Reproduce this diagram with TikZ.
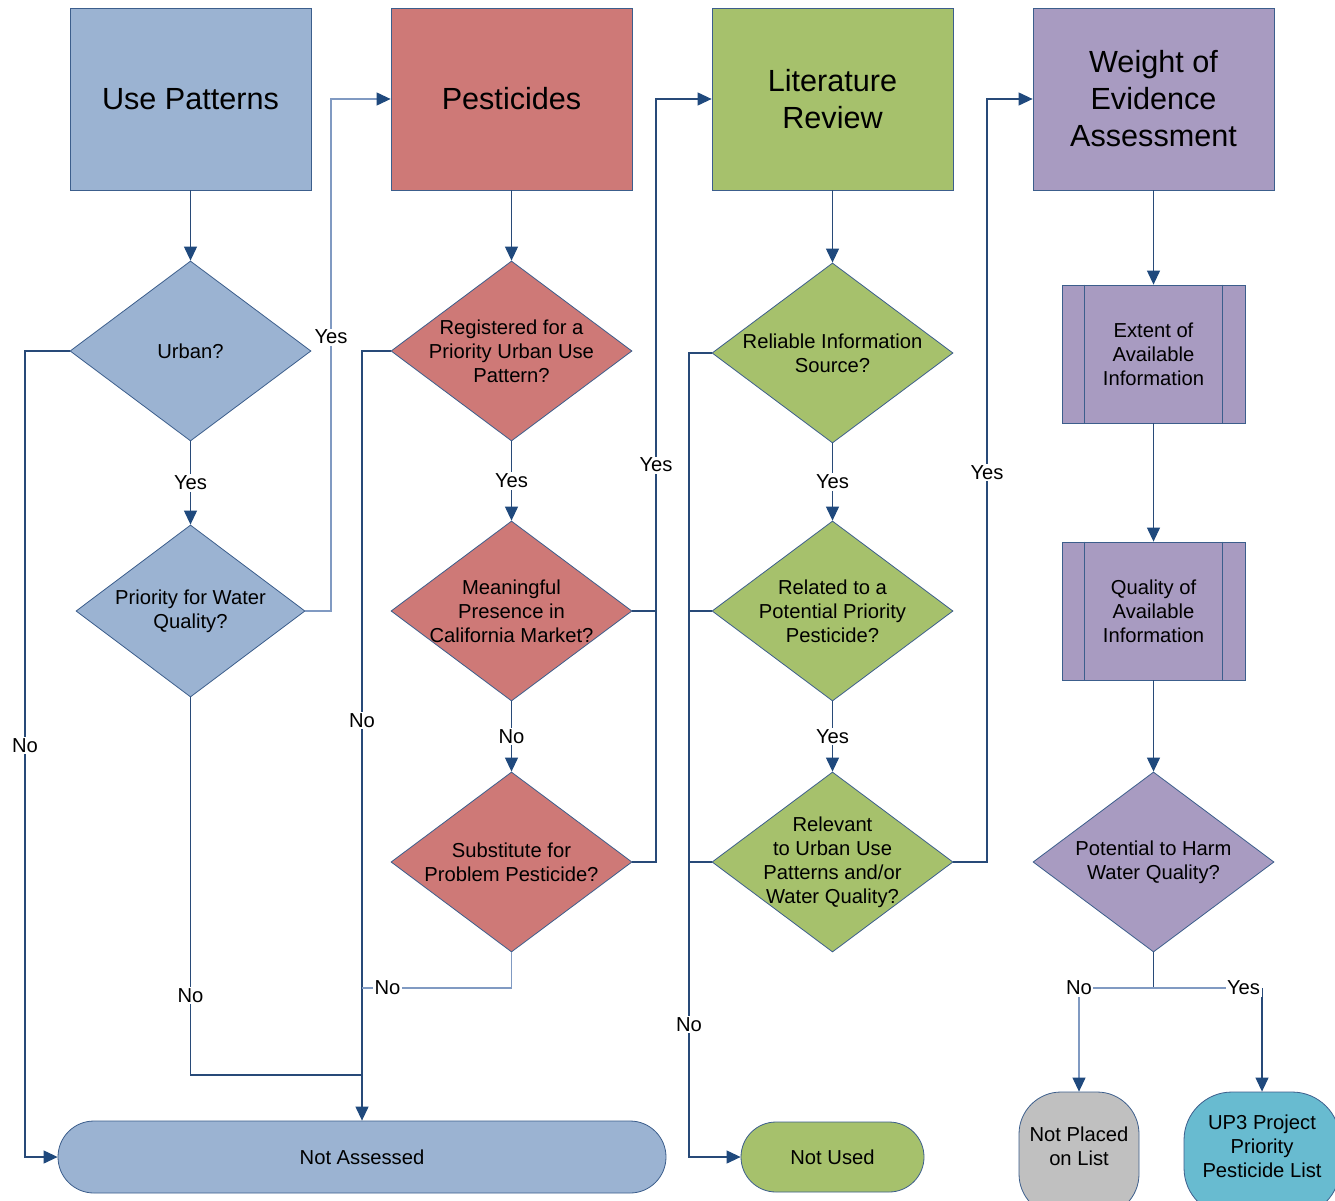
\documentclass[tikz,border=0pt]{standalone}
\usepackage{fontspec}
\setmainfont{Liberation Sans}
\usetikzlibrary{shapes.geometric,arrows.meta}
\definecolor{cBlue}{RGB}{155,179,210}
\definecolor{cRed}{RGB}{206,121,119}
\definecolor{cGreen}{RGB}{166,193,108}
\definecolor{cPurple}{RGB}{168,155,193}
\definecolor{cGray}{RGB}{192,192,192}
\definecolor{cCyan}{RGB}{104,187,208}
\definecolor{cBorder}{RGB}{60,94,140}
\definecolor{cLine}{RGB}{40,74,120}
\definecolor{cLineL}{RGB}{128,154,194}
\definecolor{cArrow}{RGB}{31,73,125}
\begin{document}
\begin{tikzpicture}[x=1pt,y=-1pt,
  hdr/.style={draw=cBorder, line width=0.8pt, minimum width=241pt, minimum height=182pt, inner sep=0pt, align=center, font=\fontsize{30.6}{37}\selectfont},
  dia/.style={diamond, draw=cBorder, line width=0.8pt, minimum width=241pt, minimum height=180pt, inner sep=0pt},
  txt/.style={align=center, inner sep=0pt, font=\fontsize{20.2}{24}\selectfont},
  proc/.style={draw=cBorder, line width=0.8pt, fill=cPurple, minimum width=183pt, minimum height=138pt, inner sep=0pt, align=center, font=\fontsize{20.2}{24}\selectfont},
  term/.style={draw=cBorder, line width=0.8pt, inner sep=0pt, align=center, font=\fontsize{20.2}{24}\selectfont},
  lbl/.style={fill=white, inner sep=1.5pt, font=\fontsize{20.2}{24}\selectfont},
  conn/.style={draw=cLine, line width=1.1pt, -{Triangle[width=13pt,length=14pt,color=cArrow]}},
  connL/.style={draw=cLineL, line width=1.1pt, -{Triangle[width=13pt,length=14pt,color=cArrow]}},
  line/.style={draw=cLine, line width=1.1pt},
  lineL/.style={draw=cLineL, line width=1.1pt}
]
\useasboundingbox (0,0) rectangle (1335,1201);
\fill[white] (0,0) rectangle (1335,1201);

% headers
\node[hdr, fill=cBlue] (use) at (190.5,99) {Use Patterns};
\node[hdr, fill=cRed] (pest) at (511.5,99) {Pesticides};
\node[hdr, fill=cGreen] (lit) at (832.5,99) {Literature\\Review};
\node[hdr, fill=cPurple] (woe) at (1153.5,99) {Weight of\\Evidence\\Assessment};

% column 1
\node[dia, fill=cBlue] (urban) at (190.5,351) {};
\node[txt] (urbanT) at (urban.center) {Urban?};
\node[dia, fill=cBlue, minimum width=229pt, minimum height=172pt] (prio) at (190.5,611) {};
\node[txt] (prioT) at (prio.center) {Priority for Water\\Quality?};

% column 2
\node[dia, fill=cRed] (reg) at (511.5,351) {};
\node[txt] (regT) at (reg.center) {Registered for a\\Priority Urban Use\\Pattern?};
\node[dia, fill=cRed] (mean) at (511.5,611) {};
\node[txt] (meanT) at (mean.center) {Meaningful\\Presence in\\California Market?};
\node[dia, fill=cRed] (sub) at (511.5,862) {};
\node[txt] (subT) at (sub.center) {Substitute for\\Problem Pesticide?};

% column 3
\node[dia, fill=cGreen] (rel) at (832.5,353) {};
\node[txt] (relT) at (rel.center) {Reliable Information\\Source?};
\node[dia, fill=cGreen] (rtd) at (832.5,611) {};
\node[txt] (rtdT) at (rtd.center) {Related to a\\Potential Priority\\Pesticide?};
\node[dia, fill=cGreen] (rlv) at (832.5,862) {};
\node[txt] (rlvT) at (rlv.center) {Relevant\\to Urban Use\\Patterns and/or\\Water Quality?};

% column 4
\node[proc] (ext) at (1153.5,354) {Extent of\\Available\\Information};
\draw[draw=cBorder, line width=0.8pt] ([xshift=23pt]ext.north west) -- ([xshift=23pt]ext.south west);
\draw[draw=cBorder, line width=0.8pt] ([xshift=-23pt]ext.north east) -- ([xshift=-23pt]ext.south east);
\node[proc] (qual) at (1153.5,611) {Quality of\\Available\\Information};
\draw[draw=cBorder, line width=0.8pt] ([xshift=23pt]qual.north west) -- ([xshift=23pt]qual.south west);
\draw[draw=cBorder, line width=0.8pt] ([xshift=-23pt]qual.north east) -- ([xshift=-23pt]qual.south east);
\node[dia, fill=cPurple] (pot) at (1153.5,862) {};
\node[txt] (potT) at (pot.center) {Potential to Harm\\Water Quality?};

% terminals
\node[term, fill=cBlue, minimum width=608pt, minimum height=72pt, rounded corners=36pt] (na) at (362,1157) {Not Assessed};
\node[term, fill=cGreen, minimum width=183pt, minimum height=70pt, rounded corners=35pt] (nu) at (832.5,1157) {Not Used};
\node[term, fill=cGray, minimum width=120pt, minimum height=124pt, rounded corners=42pt] (np) at (1079,1154) {};
\node[txt] (npT) at (1079,1146) {Not Placed\\on List};
\node[term, fill=cCyan, minimum width=156pt, minimum height=124pt, rounded corners=48pt] (up) at (1262,1154) {};
\node[txt] (upT) at (1262,1146) {UP3 Project\\Priority\\Pesticide List};

% junction coordinates
\coordinate (j1) at (362,1075);
\coordinate (j2) at (362,988);
\coordinate (j3) at (656,862);
\coordinate (j4) at (689,611);
\coordinate (j5) at (689,862);
\coordinate (jp) at (1153.5,988);
\coordinate (jn) at (1079,988);
\coordinate (jy) at (1262,988);

% straight arrows
\draw[conn] (use) -- (urban.north);
\draw[conn] (urban.south) -- node[lbl]{Yes} (prio.north);
\draw[conn] (pest) -- (reg.north);
\draw[conn] (reg.south) -- node[lbl]{Yes} (mean.north);
\draw[conn] (mean.south) -- node[lbl]{No} (sub.north);
\draw[conn] (lit) -- (rel.north);
\draw[conn] (rel.south) -- node[lbl]{Yes} (rtd.north);
\draw[conn] (rtd.south) -- node[lbl]{Yes} (rlv.north);
\draw[conn] (woe) -- (ext.north);
\draw[conn] (ext) -- (qual.north);
\draw[conn] (qual) -- (pot.north);

% column 1 branches
\draw[conn] (urban.west) -- (25,351) -- node[lbl,pos=0.49]{No} (25,1157) -- (na.west);
\draw[connL] (prio.east) -- (331,611) -- node[lbl,pos=0.535]{Yes} (331,99) -- (pest.west);
\draw[line] (prio.south) -- node[lbl,pos=0.79]{No} (190.5,1075) -- (j1);

% column 2 branches
\draw[conn] (reg.west) -- (362,351) -- node[lbl,pos=0.48]{No} (na.north);
\draw[lineL] (sub.south) -- (511.5,988) -- node[lbl,pos=0.83]{No} (j2);
\draw[line] (mean.east) -- (656,611);
\draw[line] (sub.east) -- (j3) -- (656,611);
\draw[conn] (656,611) -- node[lbl,pos=0.285]{Yes} (656,99) -- (lit.west);

% column 3 branches
\draw[conn] (rel.west) -- (689,353) -- node[lbl,pos=0.835]{No} (689,1157) -- (nu.west);
\draw[line] (rtd.west) -- (j4);
\draw[line] (rlv.west) -- (j5);
\draw[conn] (rlv.east) -- (987,862) -- node[lbl,pos=0.51]{Yes} (987,99) -- (woe.west);

% column 4 branches
\draw[line] (pot.south) -- (jp);
\draw[connL] (jn) -- (np.north);
\draw[conn] (jy) -- (up.north);
\draw[lineL] (jp) -- node[lbl,pos=1]{No} (jn);
\draw[lineL] (jp) -- node[lbl,pos=0.83]{Yes} (jy);
\end{tikzpicture}
\end{document}
